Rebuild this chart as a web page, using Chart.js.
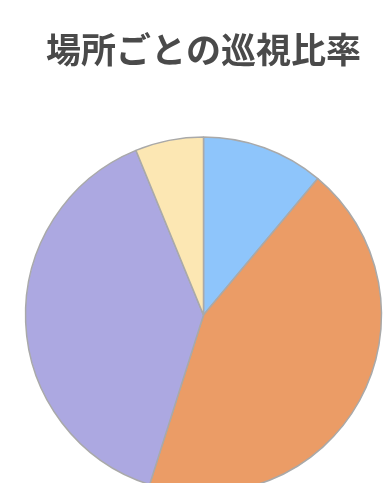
<!DOCTYPE html>
<html lang="ja">
<head>
<meta charset="utf-8">
<script src="https://cdn.jsdelivr.net/npm/chart.js@4/dist/chart.umd.min.js"></script>
<style>
  html, body { margin: 0; padding: 0; background: #fff; overflow: hidden; }
  #wrap { width: 388px; height: 483px; overflow: hidden; position: relative; }
  #pieChart { position: absolute; left: 0; top: 0; }
</style>
</head>
<body>
<div id="wrap"><canvas id="pieChart" width="407" height="553"></canvas></div>
<script>
// 場所ごとの巡視比率 (%)
const basho = ['正門', '駐車場', '倉庫', '通用口'];
const hiritsu = [11.1, 43.8, 38.9, 6.2];
const iro = ['#8ec5fb', '#eb9c66', '#aca8e1', '#fce7b3'];

document.addEventListener('DOMContentLoaded', function () {
    const ctx = document.getElementById('pieChart').getContext('2d');

    new Chart(ctx, {
        type: 'pie',
        data: {
            labels: basho,
            datasets: [{
                data: hiritsu,
                backgroundColor: iro,
                borderColor: '#a9a9a9',
                borderWidth: 1.5,
                radius: 178,
            }],
        },
        options: {
            responsive: false,
            animation: false,
            plugins: {
                legend: { display: false },
                tooltip: { enabled: false },
                title: {
                    display: true,
                    text: '場所ごとの巡視比率',
                    color: '#4a4a4a',
                    font: { family: '"Noto Sans CJK JP"', size: 35, weight: 'bold' },
                    padding: { top: 29, bottom: 6 },
                },
            },
        },
    });
});
</script>
</body>
</html>
